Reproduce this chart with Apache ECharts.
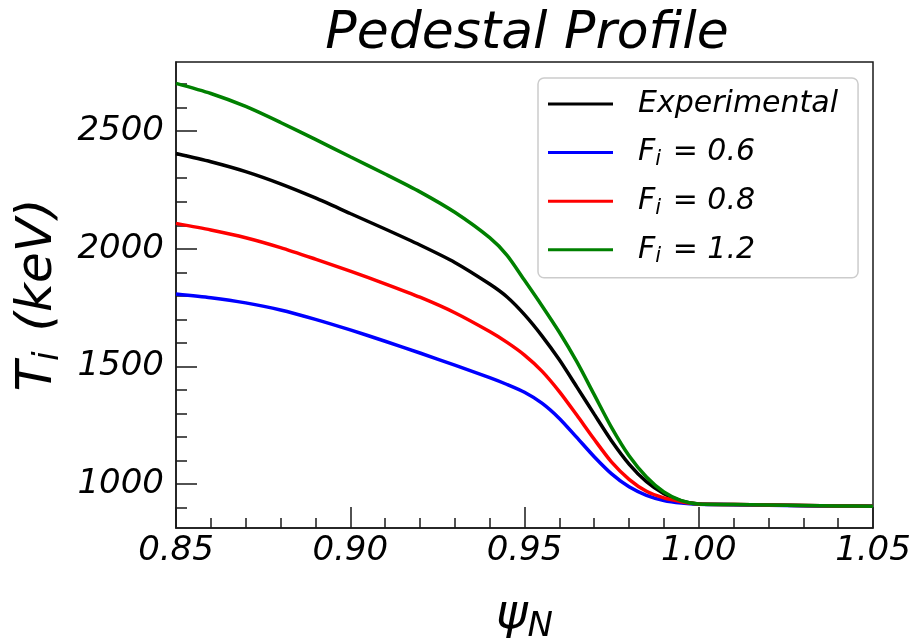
<!DOCTYPE html>
<html>
<head>
<meta charset="utf-8">
<script src="https://cdn.jsdelivr.net/npm/echarts@6/dist/echarts.min.js"></script>
<style>
html,body{margin:0;padding:0;background:#fff;}
#chart{width:914px;height:640px;}
</style>
</head>
<body>
<div id="chart"></div>
<script>
// psi_N sample positions
var psiN = [0.85, 0.86, 0.87, 0.88, 0.89, 0.90, 0.91, 0.92, 0.93, 0.94, 0.945, 0.95, 0.955, 0.96, 0.965, 0.97, 0.975, 0.98, 0.985, 0.99, 0.995, 1.00, 1.01, 1.02, 1.03, 1.04, 1.05];
// T_i (keV) values
var experimental = [2405, 2370, 2328, 2276, 2216, 2150, 2084, 2016, 1942, 1850, 1795, 1720, 1630, 1528, 1413, 1297, 1183, 1085, 1010, 959, 928, 915, 913, 911, 909, 907, 905];
var fi06 = [1808, 1792, 1770, 1740, 1700, 1655, 1607, 1557, 1505, 1452, 1423, 1390, 1344, 1279, 1198, 1116, 1043, 988, 952, 930, 919, 914, 912, 910, 908, 906, 905];
var fi08 = [2108, 2080, 2047, 2005, 1956, 1905, 1851, 1794, 1728, 1648, 1602, 1548, 1480, 1393, 1293, 1190, 1093, 1020, 969, 941, 925, 915, 913, 911, 909, 907, 905];
var fi12 = [2703, 2660, 2605, 2537, 2465, 2391, 2318, 2242, 2155, 2047, 1972, 1866, 1758, 1645, 1520, 1380, 1240, 1120, 1030, 966, 929, 915, 913, 911, 909, 907, 905];

var seriesNames = ['Experimental', 'F_i = 0.6', 'F_i = 0.8', 'F_i = 1.2'];
var seriesColors = ['#000000', '#0000ff', '#ff0000', '#008000'];
var seriesValues = [experimental, fi06, fi08, fi12];

var yMajorTicks = [1000, 1500, 2000, 2500];
var yMinorTicks = [900, 1100, 1200, 1300, 1400, 1600, 1700, 1800, 1900, 2100, 2200, 2300, 2400, 2600, 2700];
var yMin = 813, yMax = 2794;

var FONT = 'DejaVu Sans';

function pairs(vals) {
  return psiN.map(function (x, i) { return [x, vals[i]]; });
}

var chart = echarts.init(document.getElementById('chart'));

var series = seriesNames.map(function (n, k) {
  return {
    name: n,
    type: 'line',
    data: pairs(seriesValues[k]),
    showSymbol: false,
    smooth: 0.25,
    lineStyle: { color: seriesColors[k], width: 3.5 },
    itemStyle: { color: seriesColors[k] },
    yAxisIndex: 0
  };
});

var option = {
  animation: false,
  backgroundColor: '#ffffff',
  title: {
    text: 'Pedestal Profile',
    left: 522,
    textAlign: 'center',
    top: 3,
    textStyle: { fontFamily: FONT, fontStyle: 'italic', fontWeight: 'normal', fontSize: 52, color: '#000' }
  },
  grid: {
    left: 176, right: 41, top: 62, bottom: 112,
    outerBoundsMode: 'none',
    containLabel: false,
    show: true, borderColor: '#1a1a1a', borderWidth: 1.5, backgroundColor: 'transparent'
  },
  legend: {
    orient: 'vertical',
    left: 538,
    top: 78,
    data: seriesNames,
    icon: 'rect',
    itemWidth: 65,
    itemHeight: 3,
    itemGap: 12.6,
    padding: [8, 20, 10, 10],
    backgroundColor: 'rgba(255,255,255,0.85)',
    borderColor: '#cccccc',
    borderWidth: 1.5,
    borderRadius: 6,
    formatter: function (name) {
      if (name === 'Experimental') return '{n|Experimental}';
      var v = name.split('= ')[1];
      return '{n|F}{s|i}{n| = ' + v + '}';
    },
    textStyle: {
      fontFamily: FONT, fontStyle: 'italic', fontSize: 30, color: '#000',
      padding: [0, 0, 0, 20],
      lineHeight: 36,
      rich: {
        n: { fontFamily: FONT, fontStyle: 'italic', fontSize: 30, color: '#000', lineHeight: 36 },
        s: { fontFamily: FONT, fontStyle: 'italic', fontSize: 21, color: '#000', lineHeight: 36, padding: [14, 2, 0, 0] }
      }
    }
  },
  xAxis: {
    type: 'value',
    min: 0.85,
    max: 1.05,
    interval: 0.05,
    name: '{p|ψ}{s|N}',
    nameLocation: 'middle',
    nameGap: 60,
    nameTextStyle: {
      rich: {
        p: { fontFamily: FONT, fontStyle: 'italic', fontSize: 48, color: '#000', lineHeight: 56 },
        s: { fontFamily: FONT, fontStyle: 'italic', fontSize: 34, color: '#000', lineHeight: 56, padding: [22, 0, 0, 0] }
      }
    },
    axisLine: { show: true, lineStyle: { color: '#1a1a1a', width: 1.5 } },
    axisTick: { show: true, inside: true, length: 21, lineStyle: { color: '#1a1a1a', width: 1.5 } },
    minorTick: { show: true, splitNumber: 5, length: 10, lineStyle: { color: '#1a1a1a', width: 1.5 } },
    splitLine: { show: false },
    minorSplitLine: { show: false },
    axisLabel: {
      fontFamily: FONT, fontStyle: 'italic', fontSize: 34, color: '#000', margin: 6,
      formatter: function (v) { return v.toFixed(2); }
    }
  },
  yAxis: [
    {
      type: 'value',
      min: yMin,
      max: yMax,
      name: '{T|T}{s|i}{T| (keV)}',
      nameLocation: 'middle',
      nameGap: 100,
      nameRotate: 90,
      nameTextStyle: {
        rich: {
          T: { fontFamily: FONT, fontStyle: 'italic', fontSize: 50, color: '#000', lineHeight: 58 },
          s: { fontFamily: FONT, fontStyle: 'italic', fontSize: 35, color: '#000', lineHeight: 58, padding: [22, 4, 0, 0] }
        }
      },
      axisLine: { show: true, lineStyle: { color: '#1a1a1a', width: 1.5 } },
      axisTick: { show: true, inside: true, length: 21, customValues: yMajorTicks, lineStyle: { color: '#1a1a1a', width: 1.5 } },
      splitLine: { show: false },
      axisLabel: {
        fontFamily: FONT, fontStyle: 'italic', fontSize: 34, color: '#000', margin: 12,
        customValues: yMajorTicks,
        formatter: function (v) { return String(Math.round(v)); }
      }
    },
    {
      type: 'value',
      min: yMin,
      max: yMax,
      position: 'left',
      axisLine: { show: false },
      axisTick: { show: true, inside: true, length: 11, customValues: yMinorTicks, lineStyle: { color: '#1a1a1a', width: 1.5 } },
      axisLabel: { show: false },
      splitLine: { show: false }
    }
  ],
  series: series
};

chart.setOption(option);
</script>
</body>
</html>
